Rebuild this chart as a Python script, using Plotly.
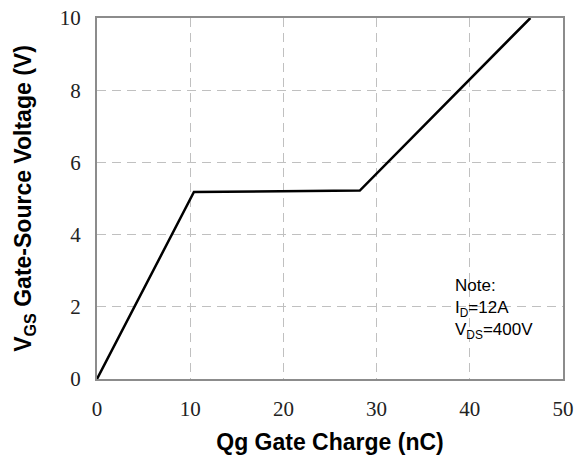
import plotly.graph_objects as go

qg = [0, 10.4, 28.2, 46.5]
vgs = [0, 5.18, 5.22, 10.0]
x_ticks = [0, 10, 20, 30, 40, 50]
y_ticks = [0, 2, 4, 6, 8, 10]

fig = go.Figure()
fig.add_trace(go.Scatter(x=qg, y=vgs, mode="lines",
                         line=dict(color="black", width=2.5), showlegend=False))

grid = dict(showgrid=True, gridcolor="#c0c0c0", griddash="9px,6px", gridwidth=1.3,
            zeroline=False, showline=True, linecolor="#8c8c8c", linewidth=2, mirror=True,
            ticks="", automargin=False, ticklabeloverflow="allow",
            tickfont=dict(family="Liberation Serif, serif", size=21, color="#222"))

fig.update_xaxes(range=[0, 50], tickvals=x_ticks, ticklabelstandoff=10, **grid,
                 title=dict(text="Qg Gate Charge (nC)", standoff=14,
                            font=dict(family="Liberation Sans, Arial", size=23, color="black", weight="bold")))
fig.update_yaxes(range=[0, 10], tickvals=y_ticks, ticklabelstandoff=10, **grid,
                 title=dict(text="V<sub>GS</sub> Gate-Source Voltage (V)", standoff=22,
                            font=dict(family="Liberation Sans, Arial", size=23, color="black", weight="bold")))

fig.add_annotation(x=0.765, y=0.292, xref="paper", yref="paper", xanchor="left", yanchor="top",
                   align="left", showarrow=False,
                   text="Note:<br>I<sub>D</sub>=12A<br>V<sub>DS</sub>=400V",
                   font=dict(family="Liberation Sans, Arial", size=17, color="black"))

fig.update_layout(width=583, height=467, margin=dict(l=97, r=20, t=18, b=88),
                  plot_bgcolor="white", paper_bgcolor="white")
# remove the page's default 8px body margin so the figure fills the window
fig.write_html("out.html", config={"displayModeBar": False},
               post_script="document.body.style.margin='0';")
